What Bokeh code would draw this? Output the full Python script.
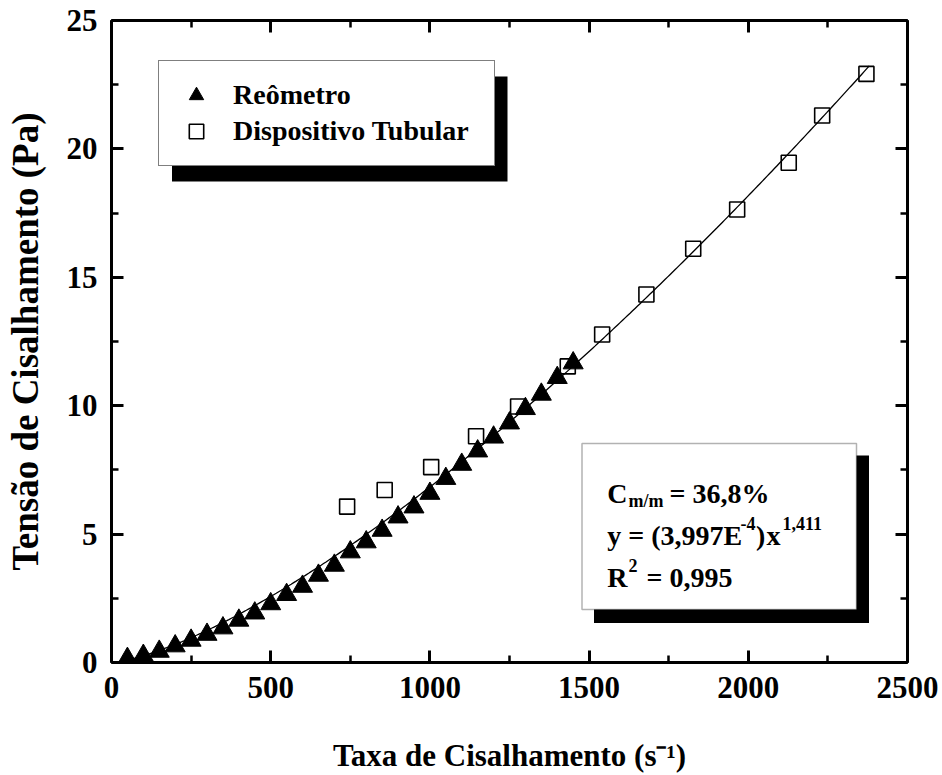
import numpy as np
from bokeh.plotting import figure
from bokeh.models import (LinearAxis, SingleIntervalTicker, Label, BoxAnnotation,
                          Legend, LegendItem, Range1d)
from bokeh.embed import file_html
from bokeh.resources import INLINE

# ---------------- data ----------------
reometro_x = [50, 100, 150, 200, 250, 300, 350, 400, 450, 500, 550, 600, 650, 700, 750,
              800, 850, 900, 950, 1000, 1050, 1100, 1150, 1200, 1250, 1300, 1350, 1400, 1450]
reometro_y = [0.15, 0.27, 0.43, 0.64, 0.86, 1.09, 1.34, 1.64, 1.92, 2.28, 2.64, 2.96, 3.39, 3.78, 4.30,
              4.69, 5.14, 5.66, 6.05, 6.58, 7.16, 7.71, 8.23, 8.77, 9.32, 9.88, 10.44, 11.09, 11.66]

tubular_x = [740, 858, 1004, 1145, 1277, 1433, 1541, 1680, 1827, 1965, 2127, 2232, 2371]
tubular_y = [6.07, 6.72, 7.61, 8.81, 9.97, 11.53, 12.77, 14.33, 16.11, 17.64, 19.46, 21.30, 22.92]

# power-law fit shown in the chart: y = a * x^b
fit_a = 3.997e-4
fit_b = 1.411
fit_x_start, fit_x_end = 40, 2380

legend_labels = ["Reômetro", "Dispositivo Tubular"]
x_title = "Taxa de Cisalhamento (s\u207b\u00b9)"
y_title = "Tensão de Cisalhamento (Pa)"

# ---------------- layout ----------------
FL, FT, FW, FH = 111, 20, 796, 642
X0, X1, Y0, Y1 = 0, 2500, 0, 25
FONT = "Liberation Serif"


def dx(px):
    return X0 + (px - FL) * (X1 - X0) / FW


def dy(py):
    return Y0 + (FT + FH - py) * (Y1 - Y0) / FH


p = figure(frame_width=FW, frame_height=FH,
           min_border_left=FL, min_border_top=FT, min_border_right=942 - FL - FW,
           min_border_bottom=775 - FT - FH,
           x_range=Range1d(X0, X1), y_range=Range1d(Y0, Y1),
           output_backend="svg", toolbar_location=None,
           x_axis_location=None, y_axis_location=None)
p.xgrid.grid_line_color = None
p.ygrid.grid_line_color = None
p.outline_line_color = None
p.background_fill_color = "white"
p.border_fill_color = "white"


def style_axis(ax, show_labels):
    ax.axis_line_width = 3
    ax.axis_line_color = "black"
    ax.major_tick_in = 12
    ax.major_tick_out = 0
    ax.minor_tick_in = 7
    ax.minor_tick_out = 0
    ax.major_tick_line_width = 3
    ax.minor_tick_line_width = 2.5
    ax.major_tick_line_color = "black"
    ax.minor_tick_line_color = "black"
    ax.major_label_text_font = FONT
    ax.major_label_text_font_style = "bold"
    ax.major_label_text_color = "black"
    ax.axis_label_text_font = FONT
    ax.axis_label_text_font_style = "bold"
    ax.axis_label_text_color = "black"
    if show_labels:
        ax.major_label_text_font_size = "31px"
    else:
        ax.major_label_text_font_size = "0px"
        ax.major_label_standoff = 0


bottom = LinearAxis(ticker=SingleIntervalTicker(interval=500, num_minor_ticks=2))
style_axis(bottom, True)
bottom.major_label_standoff = 14
bottom.axis_label = x_title
bottom.axis_label_text_font_size = "31px"
bottom.axis_label_standoff = 37
top = LinearAxis(ticker=SingleIntervalTicker(interval=500, num_minor_ticks=2))
style_axis(top, False)
left = LinearAxis(ticker=SingleIntervalTicker(interval=5, num_minor_ticks=2))
style_axis(left, True)
left.major_label_standoff = 14
left.axis_label = y_title
left.axis_label_text_font_size = "37px"
left.axis_label_standoff = 18
right = LinearAxis(ticker=SingleIntervalTicker(interval=5, num_minor_ticks=2))
style_axis(right, False)
p.add_layout(bottom, "below")
p.add_layout(top, "above")
p.add_layout(left, "left")
p.add_layout(right, "right")

# fit curve
fit_x = np.linspace(fit_x_start, fit_x_end, 300)
fit_y = fit_a * fit_x ** fit_b
p.line(fit_x, fit_y, line_color="black", line_width=1.3)

tri = p.scatter(reometro_x, reometro_y, marker="triangle", size=20,
                fill_color="black", line_color="black", line_width=1)
sq = p.scatter(tubular_x, tubular_y, marker="square", size=15,
               fill_color=None, line_color="black", line_width=1.6)

# legend with drop shadow
p.add_layout(BoxAnnotation(left=dx(171.5), right=dx(507), top=dy(76), bottom=dy(181),
                           fill_color="black", fill_alpha=1, line_color=None))
legend = Legend(items=[LegendItem(label=legend_labels[0], renderers=[tri]),
                       LegendItem(label=legend_labels[1], renderers=[sq])],
                location=(158 - FL, FT + FH - 166),
                padding=16, spacing=0, margin=0,
                glyph_width=42, glyph_height=36, label_standoff=16, label_width=245,
                label_text_font=FONT, label_text_font_style="bold",
                label_text_font_size="28px", label_text_color="black",
                border_line_color="black", border_line_width=1.5,
                background_fill_color="white", background_fill_alpha=1)
p.add_layout(legend, "center")

# annotation box with drop shadow
p.add_layout(BoxAnnotation(left=dx(593.5), right=dx(868.5), top=dy(455), bottom=dy(622.5),
                           fill_color="black", fill_alpha=1, line_color=None))
p.add_layout(BoxAnnotation(left=dx(581.5), right=dx(856), top=dy(443), bottom=dy(609),
                           fill_color="white", fill_alpha=1, line_color="black",
                           line_width=1.5))


def txt(px, py, s, size):
    p.add_layout(Label(x=dx(px), y=dy(py), text=s, text_font=FONT,
                       text_font_style="bold", text_font_size=f"{size}px",
                       text_color="black", text_baseline="alphabetic",
                       text_align="left"))


# C_m/m = 36,8%
txt(606.7, 493, "C", 28)
txt(628, 500, "m/m", 18)
txt(669, 493, "= 36,8%", 28)
# y = (3,997E^-4)x^1,411
txt(606.7, 535, "y = (3,997E", 28)
txt(740, 523, "-4", 18)
txt(755.5, 535, ")", 28)
txt(766, 535, "x", 28)
txt(782, 523, "1,411", 18)
# R^2 = 0,995
txt(606.7, 577, "R", 28)
txt(628, 565, "2", 18)
txt(646, 577, "= 0,995", 28)

open("out.html", "w").write(file_html(p, INLINE))
